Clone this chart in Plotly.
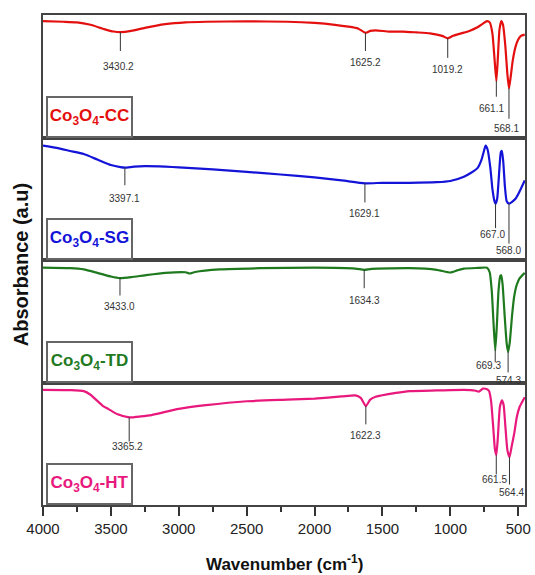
import numpy as np
import plotly.graph_objects as go
from plotly.subplots import make_subplots

# ---------------- data ----------------
wn_cc = [4000, 3850, 3750, 3650, 3550, 3480, 3430, 3350, 3250, 3100, 2950, 2800, 2500, 2200, 2000,
         1850, 1750, 1680, 1625, 1590, 1550, 1450, 1350, 1250, 1150, 1060, 1019, 980, 920, 860,
         800, 760, 730, 710, 690, 675, 661, 650, 638, 625, 612, 595, 580, 568, 555, 540, 520, 500, 480, 452]
ab_cc = [95, 94.5, 94, 92, 88.5, 86.5, 86, 87, 89.5, 92.5, 94, 94.5, 94.8, 94.5, 93.5,
         92, 90.5, 89, 85.5, 87, 87.5, 86.5, 86.5, 85.8, 85, 83, 81, 83, 85, 87,
         90, 93, 95, 94, 85, 65, 46, 65, 88, 95, 92, 75, 52, 40, 50, 63, 74, 80, 83, 84]

wn_sg = [4000, 3900, 3800, 3700, 3600, 3500, 3430, 3397, 3330, 3250, 3100, 3000, 2750, 2500, 2250,
         2000, 1800, 1629, 1500, 1300, 1100, 1000, 900, 850, 800, 770, 750, 740, 725, 705,
         690, 675, 667, 655, 640, 628, 620, 610, 598, 585, 568, 545, 520, 490, 452]
ab_sg = [93.4, 91.5, 89, 86.5, 82, 77.5, 75.8, 75.4, 76.2, 76.6, 76.2, 75.6, 74, 72, 69.8,
         67.4, 65, 62.6, 63, 63, 63.5, 64.5, 68, 71, 75, 82, 90, 93.4, 90, 75,
         58, 48, 46, 50, 72, 88, 89, 80, 60, 48, 46, 47.5, 50, 56, 65]

wn_td = [4000, 3800, 3700, 3600, 3500, 3433, 3350, 3250, 3100, 2950, 2920, 2880, 2700, 2400, 2000,
         1700, 1634, 1580, 1300, 1100, 1000, 950, 900, 800, 730, 710, 695, 680, 669, 658,
         645, 632, 625, 615, 600, 585, 574, 562, 545, 530, 510, 490, 452]
ab_td = [93.7, 93.3, 92.3, 89.5, 86.5, 85.2, 86, 87.5, 89.5, 90, 89, 90.2, 92.3, 93.3, 93.7,
         93, 92, 92.8, 93.3, 92, 89.8, 91.5, 93, 93.5, 93.7, 90, 75, 45, 26.3, 45,
         75, 87, 87.5, 80, 55, 32, 25, 33, 55, 70, 80, 85, 89.5]

wn_ht = [4000, 3800, 3700, 3650, 3620, 3580, 3560, 3520, 3450, 3365, 3280, 3200, 3000, 2800, 2500,
         2200, 2000, 1800, 1700, 1660, 1622, 1590, 1550, 1400, 1300, 1100, 900, 820, 790, 760,
         730, 715, 700, 685, 672, 661.5, 650, 635, 620, 608, 595, 580, 564, 548, 530, 510, 490, 452]
ab_ht = [94, 93.8, 93, 90, 87, 83, 81, 78.5, 74, 71.5, 72.3, 73.4, 78.5, 81.5, 84.7,
         86, 86.9, 88.6, 89.5, 87.5, 80.7, 86, 88.3, 91.5, 93, 93.5, 94, 93.5, 92.5, 95,
         94.5, 93, 85, 65, 46, 40.6, 55, 80, 85.5, 82, 65, 45, 39, 48, 58, 72, 80, 88]

sample_names = ["CC", "SG", "TD", "HT"]
peaks_cc = [3430.2, 1625.2, 1019.2, 661.1, 568.1]
peaks_sg = [3397.1, 1629.1, 667.0, 568.0]
peaks_td = [3433.0, 1634.3, 669.3, 574.3]
peaks_ht = [3365.2, 1622.3, 661.5, 564.4]
x_ticks = [4000, 3500, 3000, 2500, 2000, 1500, 1000, 500]

# ---------------- layout / style ----------------
colors = ["#e41010", "#1414d8", "#1f7a1f", "#e8187c"]
# (line end y, label y, label x shift px) per peak, per panel
peak_layout = [
    [(70.6, 58, -2), (70.6, 61, 0), (65, 55.5, 0), (33.3, 24, -5), (15.3, 7, -2)],
    [(61, 50, 0), (47, 38, 0), (26, 21, -3), (13.4, 8, 0)],
    [(71, 62, 0), (77, 67, 0), (16.5, 13.7, -7), (8.2, 1.6, 0)],
    [(51.8, 47.5, -2), (65.8, 57, 0), (25, 21, -2), (16.7, 10, 2)],
]
FONT = "Liberation Sans, Arial, sans-serif"

wns = [wn_cc, wn_sg, wn_td, wn_ht]
abs_ = [ab_cc, ab_sg, ab_td, ab_ht]
peaks = [peaks_cc, peaks_sg, peaks_td, peaks_ht]

fig = make_subplots(rows=4, cols=1, shared_xaxes=True, vertical_spacing=0)

for i in range(4):
    r = i + 1
    fig.add_trace(go.Scatter(x=wns[i], y=abs_[i], mode="lines",
                             line=dict(color=colors[i], width=2.2, shape="spline", smoothing=0.5),
                             showlegend=False, hoverinfo="skip"), row=r, col=1)
    xr = "x" if r == 1 else f"x{r}"
    yr = "y" if r == 1 else f"y{r}"
    for p, (yend, ylab, xs) in zip(peaks[i], peak_layout[i]):
        ycurve = float(np.interp(p, wns[i][::-1], abs_[i][::-1]))
        fig.add_shape(type="line", xref=xr, yref=yr, x0=p, x1=p, y0=ycurve, y1=yend,
                      line=dict(color="#333", width=1))
        fig.add_annotation(xref=xr, yref=yr, x=p, y=ylab, text=f"{p:.1f}", showarrow=False,
                           xshift=xs, font=dict(family=FONT, size=10, color="#333"))
    fig.add_annotation(xref=f"{xr} domain", yref=f"{yr} domain", x=0.006, y=0.0,
                       xanchor="left", yanchor="bottom",
                       text=f"Co<sub>3</sub>O<sub>4</sub>-{sample_names[i]}", showarrow=False,
                       width=79, height=34, borderpad=2, bordercolor="#666", borderwidth=2,
                       bgcolor="white", align="center", valign="middle",
                       font=dict(family=FONT, size=17, color=colors[i], weight="bold"))

axis_common = dict(showline=True, mirror=True, linecolor="#444", linewidth=1.5,
                   showgrid=False, zeroline=False)
for r in range(1, 5):
    fig.update_yaxes(range=[0, 100], showticklabels=False, ticks="", row=r, col=1, **axis_common)
    if r < 4:
        fig.update_xaxes(range=[4000, 450], ticks="", showticklabels=False, row=r, col=1, **axis_common)

fig.update_xaxes(range=[4000, 450], tickvals=x_ticks, ticktext=[str(t) for t in x_ticks],
                 ticks="outside", ticklen=9, tickwidth=1.5, tickcolor="#333",
                 minor=dict(tickvals=[3750, 3250, 2750, 2250, 1750, 1250, 750], ticks="outside",
                            ticklen=5, tickwidth=1.5, tickcolor="#333"),
                 tickfont=dict(family=FONT, size=15, color="#222"),
                 row=4, col=1, **axis_common)

fig.add_annotation(xref="paper", yref="paper", x=0.5, y=-0.118, xanchor="center", yanchor="middle",
                   text="Wavenumber (cm<sup>-1</sup>)",
                   showarrow=False, font=dict(family=FONT, size=17, color="#111", weight="bold"))
fig.add_annotation(xref="paper", yref="paper", x=-0.045, y=0.49, xanchor="center", yanchor="middle",
                   text="Absorbance (a.u)", textangle=-90, showarrow=False,
                   font=dict(family=FONT, size=20, color="#111", weight="bold"))

fig.update_layout(width=535, height=575, margin=dict(l=43, r=4, t=15, b=70),
                  plot_bgcolor="white", paper_bgcolor="white")

fig.write_html("out.html")
